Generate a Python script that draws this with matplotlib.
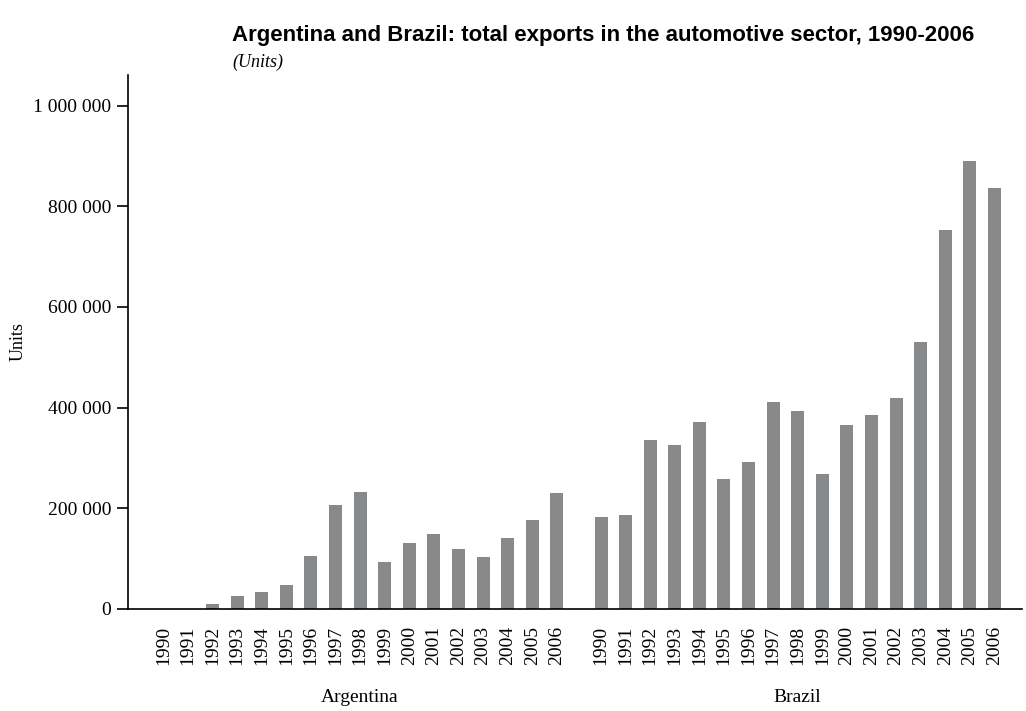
import numpy as np
import matplotlib
matplotlib.use("Agg")
import matplotlib.pyplot as plt
from matplotlib.ticker import FuncFormatter

# data
years = ["1990", "1991", "1992", "1993", "1994", "1995", "1996", "1997", "1998",
         "1999", "2000", "2001", "2002", "2003", "2004", "2005", "2006"]
argentina = [0, 0, 9900, 25800, 33800, 47700, 105300, 206600, 232400,
             93300, 131100, 149000, 119200, 103300, 141000, 176800, 230400]
brazil = [182700, 186700, 335600, 325700, 371400, 258200, 292000, 411100, 393200,
          268100, 365400, 385300, 419100, 530300, 752700, 889800, 836100]
groups = ["Argentina", "Brazil"]

serif = "Liberation Serif"
bar_color = "#88898b"

fig = plt.figure(figsize=(10.26, 7.11), dpi=100)
ax = fig.add_axes([0.1248, 0.1435, 0.8712, 0.751])

n = len(years)
gap = 1.8
x_arg = np.arange(n)
x_bra = np.arange(n) + n - 1 + gap
width = 0.53

ax.bar(x_arg, argentina, width=width, color=bar_color, linewidth=0)
ax.bar(x_bra, brazil, width=width, color=bar_color, linewidth=0)

ax.set_xlim(-1.44, x_bra[-1] + 1.12)
ax.set_ylim(0, 1060600)

ax.set_yticks([0, 200000, 400000, 600000, 800000, 1000000])
ax.yaxis.set_major_formatter(FuncFormatter(lambda v, p: f"{int(v):,}".replace(",", " ")))
ax.tick_params(axis="y", direction="out", length=8, width=1.2, labelsize=14, pad=4)
for lab in ax.get_yticklabels():
    lab.set_fontfamily(serif)

ax.set_xticks(np.concatenate([x_arg, x_bra]))
ax.set_xticklabels(years + years, rotation=90, fontsize=14, fontfamily=serif)
ax.tick_params(axis="x", length=0, pad=12)

for side in ["top", "right"]:
    ax.spines[side].set_visible(False)
for side in ["left", "bottom"]:
    ax.spines[side].set_linewidth(1.2)

ax.set_ylabel("Units", fontsize=13, fontfamily=serif, va="center")
ax.yaxis.set_label_coords(-0.123, 0.5)

# group labels under the years
ax.text(x_arg.mean(), -0.165, groups[0], transform=ax.get_xaxis_transform(),
        ha="center", va="center", fontsize=14, fontfamily=serif)
ax.text(x_bra.mean(), -0.165, groups[1], transform=ax.get_xaxis_transform(),
        ha="center", va="center", fontsize=14, fontfamily=serif)

fig.text(232 / 1026, 1 - 36 / 711, "Argentina and Brazil: total exports in the automotive sector, 1990-2006",
         fontsize=16, fontweight="bold", fontfamily="Liberation Sans", va="center", ha="left")
fig.text(232 / 1026, 1 - 62 / 711, "(Units)", fontsize=13, fontstyle="italic",
         fontfamily=serif, va="center", ha="left")

fig.savefig("out.png", dpi=100)
